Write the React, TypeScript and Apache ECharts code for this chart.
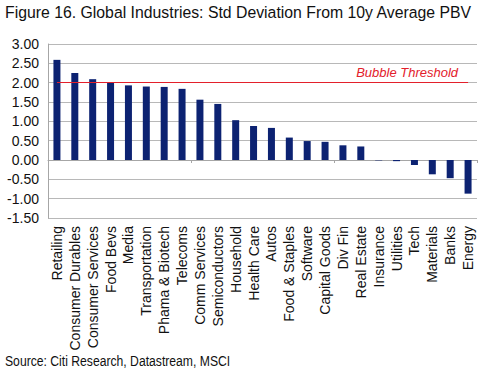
import React, { useEffect, useRef } from "react";
import * as echarts from "echarts";

const categories = [
  "Retailing", "Consumer Durables", "Consumer Services", "Food Bevs", "Media",
  "Transportation", "Phama & Biotech", "Telecoms", "Comm Services", "Semiconductors",
  "Household", "Health Care", "Autos", "Food & Staples", "Software", "Capital Goods",
  "Div Fin", "Real Estate", "Insurance", "Utilities", "Tech", "Materials", "Banks", "Energy",
];
const values = [
  2.59, 2.25, 2.09, 2.0, 1.93, 1.9, 1.89, 1.84, 1.56, 1.45,
  1.03, 0.88, 0.83, 0.58, 0.49, 0.47, 0.38, 0.35, -0.01, -0.03, -0.13, -0.37, -0.47, -0.87,
];
const threshold = 2.0;
const thresholdLabel = "Bubble Threshold";
const titleText = "Figure 16. Global Industries: Std Deviation From 10y Average PBV";
const sourceText = "Source: Citi Research, Datastream, MSCI";

export default function App() {
  const ref = useRef<HTMLDivElement>(null);
  useEffect(() => {
    if (!ref.current) return;
    const chart = echarts.init(ref.current, null, { renderer: "svg" });
    chart.setOption({
      animation: false,
      backgroundColor: "#ffffff",
      graphic: [
        {
          type: "text",
          x: 5,
          y: 3,
          scaleX: 0.93,
          style: {
            text: titleText,
            font: "17px 'Liberation Sans', Arial, sans-serif",
            fill: "#111",
          },
        },
        {
          type: "text",
          x: 5,
          y: 354,
          scaleX: 0.87,
          style: {
            text: sourceText,
            font: "14px 'Liberation Sans', Arial, sans-serif",
            fill: "#111",
          },
        },
      ],
      grid: { left: 48, right: 11, top: 44, bottom: 154, containLabel: false },
      xAxis: [
        {
          type: "category",
          data: categories,
          position: "bottom",
          axisLine: { show: true, onZero: true, lineStyle: { color: "#a6a6a6", width: 1 } },
          axisTick: { show: true, length: 3, alignWithLabel: false, lineStyle: { color: "#a6a6a6" } },
          axisLabel: { show: false },
          splitLine: { show: false },
        },
        {
          type: "category",
          data: categories,
          position: "bottom",
          axisLine: { show: false, onZero: false },
          axisTick: { show: false },
          axisLabel: {
            show: true,
            rotate: 90,
            interval: 0,
            margin: 8,
            fontFamily: "'Liberation Sans', Arial, sans-serif",
            fontSize: 14,
            color: "#111",
          },
        },
      ],
      yAxis: {
        type: "value",
        min: -1.5,
        max: 3,
        interval: 0.5,
        axisLine: { show: true, lineStyle: { color: "#a6a6a6" } },
        axisTick: { show: false },
        axisLabel: {
          formatter: (v: number) => v.toFixed(2),
          fontFamily: "'Liberation Sans', Arial, sans-serif",
          fontSize: 14,
          color: "#111",
          margin: 9,
        },
        splitLine: { show: true, lineStyle: { color: "#b8b8b8", width: 1 } },
      },
      series: [
        {
          type: "bar",
          data: values,
          xAxisIndex: 0,
          barWidth: 7,
          itemStyle: { color: "#0c2272" },
          markLine: {
            symbol: "none",
            silent: true,
            lineStyle: { color: "#e3202b", width: 1.2, type: "solid" },
            label: {
              show: true,
              position: "insideEndTop",
              formatter: thresholdLabel,
              color: "#e3202b",
              fontStyle: "italic",
              fontFamily: "'Liberation Sans', Arial, sans-serif",
              fontSize: 13,
              distance: [10, 4],
            },
            data: [
              [
                { xAxis: categories[0], yAxis: threshold },
                { xAxis: categories[categories.length - 1], yAxis: threshold },
              ],
            ],
          },
        },
      ],
    });
    return () => chart.dispose();
  }, []);
  return (
    <div
      ref={ref}
      style={{ position: "fixed", left: 0, top: 0, width: 488, height: 372 }}
    />
  );
}
